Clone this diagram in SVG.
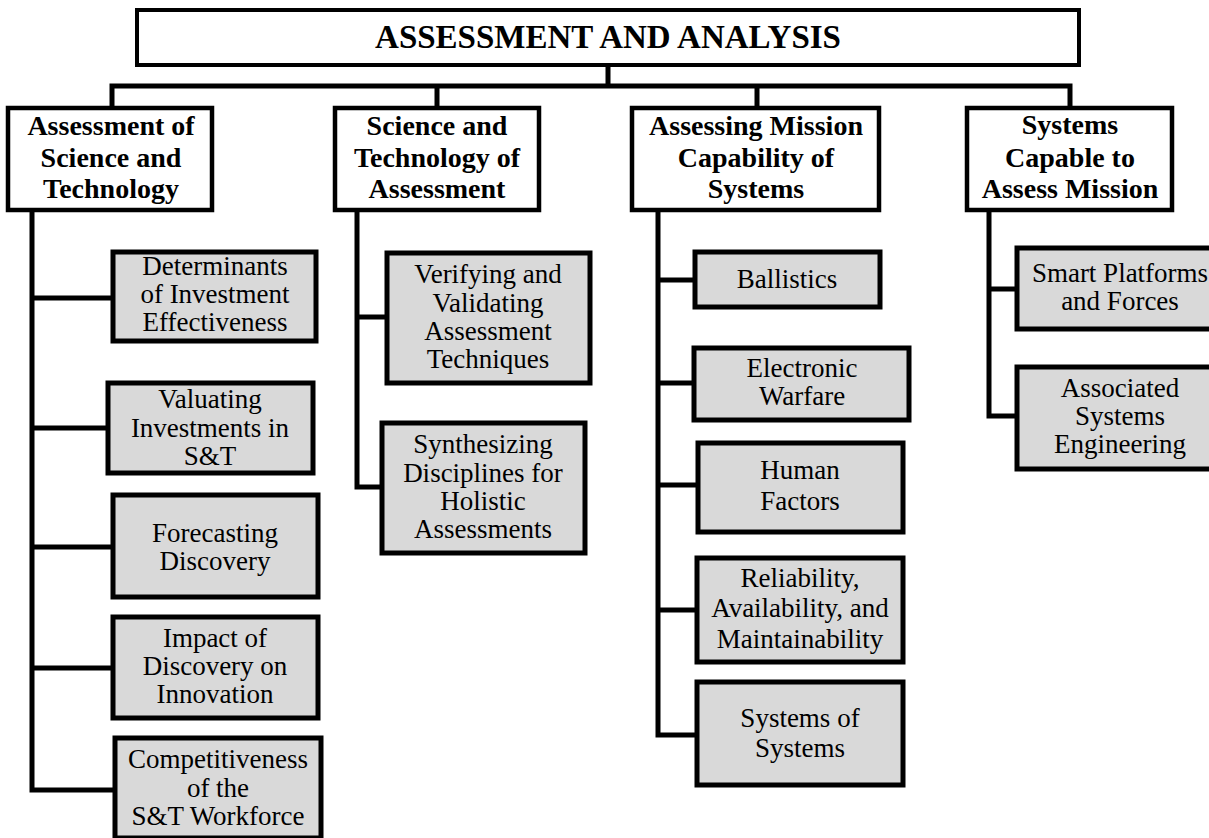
<svg xmlns="http://www.w3.org/2000/svg" width="1209" height="838" viewBox="0 0 1209 838">
<style>
.bg{fill:#ffffff}
.root{fill:#ffffff;stroke:#000;stroke-width:4}
.head{fill:#ffffff;stroke:#000;stroke-width:4.5}
.leaf{fill:#d9d9d9;stroke:#000;stroke-width:5}
.conn{fill:none;stroke:#000;stroke-width:5;stroke-linejoin:miter;stroke-linecap:square}
.t0{font-family:"Liberation Serif","Times New Roman",serif;font-weight:bold;font-size:33px;text-anchor:middle;fill:#000}
.th{font-family:"Liberation Serif","Times New Roman",serif;font-weight:bold;font-size:28px;text-anchor:middle;fill:#000}
.tl{font-family:"Liberation Serif","Times New Roman",serif;font-size:27px;text-anchor:middle;fill:#000}
</style>
<rect class="bg" x="0" y="0" width="1209" height="838"/>
<g id="connectors">
<path class="conn" d="M608,65 V86 M112,86 H1070 M112,86 V108 M437,86 V108 M757,86 V108 M1070,86 V108"/>
<path class="conn" d="M32,210 V790 H115 M32,298 H113 M32,428 H108 M32,547 H113 M32,668 H113"/>
<path class="conn" d="M357,210 V487 H382 M357,317 H387"/>
<path class="conn" d="M658,210 V735 H697 M658,280 H695 M658,383 H694 M658,485 H698 M658,610 H697"/>
<path class="conn" d="M989,210 V416 H1017 M989,289 H1017"/>
</g>
<g id="root">
<rect class="root" x="137" y="10" width="942" height="55"/>
<text class="t0" x="608" y="48">ASSESSMENT AND ANALYSIS</text>
</g>
<g id="h1">
<rect class="head" x="8" y="108" width="204" height="102"/>
<text class="th" x="111" y="135">Assessment of</text>
<text class="th" x="111" y="167">Science and</text>
<text class="th" x="111" y="198">Technology</text>
</g>
<g id="h2">
<rect class="head" x="335" y="108" width="204" height="102"/>
<text class="th" x="437" y="135">Science and</text>
<text class="th" x="437" y="167">Technology of</text>
<text class="th" x="437" y="198">Assessment</text>
</g>
<g id="h3">
<rect class="head" x="632" y="108" width="247" height="102"/>
<text class="th" x="756" y="135">Assessing Mission</text>
<text class="th" x="756" y="167">Capability of</text>
<text class="th" x="756" y="198">Systems</text>
</g>
<g id="h4">
<rect class="head" x="967" y="108" width="205" height="102"/>
<text class="th" x="1070" y="134">Systems</text>
<text class="th" x="1070" y="167">Capable to</text>
<text class="th" x="1070" y="198">Assess Mission</text>
</g>
<g id="c1a">
<rect class="leaf" x="113" y="252" width="203" height="89"/>
<text class="tl" x="215" y="275">Determinants</text>
<text class="tl" x="215" y="303">of Investment</text>
<text class="tl" x="215" y="331">Effectiveness</text>
</g>
<g id="c1b">
<rect class="leaf" x="108" y="383" width="205" height="90"/>
<text class="tl" x="210" y="408">Valuating</text>
<text class="tl" x="210" y="437">Investments  in</text>
<text class="tl" x="210" y="465">S&amp;T</text>
</g>
<g id="c1c">
<rect class="leaf" x="113" y="495" width="205" height="102"/>
<text class="tl" x="215" y="542">Forecasting</text>
<text class="tl" x="215" y="570">Discovery</text>
</g>
<g id="c1d">
<rect class="leaf" x="113" y="617" width="205" height="101"/>
<text class="tl" x="215" y="647">Impact of</text>
<text class="tl" x="215" y="675">Discovery on</text>
<text class="tl" x="215" y="703">Innovation</text>
</g>
<g id="c1e">
<rect class="leaf" x="115" y="738" width="206" height="100"/>
<text class="tl" x="218" y="768">Competitiveness</text>
<text class="tl" x="218" y="797">of the</text>
<text class="tl" x="218" y="825">S&amp;T Workforce</text>
</g>
<g id="c2a">
<rect class="leaf" x="387" y="253" width="203" height="130"/>
<text class="tl" x="488" y="283">Verifying and</text>
<text class="tl" x="488" y="312">Validating</text>
<text class="tl" x="488" y="340">Assessment</text>
<text class="tl" x="488" y="368">Techniques</text>
</g>
<g id="c2b">
<rect class="leaf" x="382" y="423" width="203" height="130"/>
<text class="tl" x="483" y="453">Synthesizing</text>
<text class="tl" x="483" y="482">Disciplines for</text>
<text class="tl" x="483" y="510">Holistic</text>
<text class="tl" x="483" y="538">Assessments</text>
</g>
<g id="c3a">
<rect class="leaf" x="695" y="252" width="185" height="55"/>
<text class="tl" x="787" y="288">Ballistics</text>
</g>
<g id="c3b">
<rect class="leaf" x="694" y="348" width="215" height="72"/>
<text class="tl" x="802" y="377">Electronic</text>
<text class="tl" x="802" y="405">Warfare</text>
</g>
<g id="c3c">
<rect class="leaf" x="698" y="443" width="205" height="89"/>
<text class="tl" x="800" y="479">Human</text>
<text class="tl" x="800" y="510">Factors</text>
</g>
<g id="c3d">
<rect class="leaf" x="697" y="558" width="206" height="104"/>
<text class="tl" x="800" y="587">Reliability,</text>
<text class="tl" x="800" y="617">Availability, and</text>
<text class="tl" x="800" y="648">Maintainability</text>
</g>
<g id="c3e">
<rect class="leaf" x="697" y="682" width="206" height="103"/>
<text class="tl" x="800" y="727">Systems of</text>
<text class="tl" x="800" y="757">Systems</text>
</g>
<g id="c4a">
<rect class="leaf" x="1017" y="248" width="200" height="81"/>
<text class="tl" x="1120" y="282">Smart Platforms</text>
<text class="tl" x="1120" y="310">and Forces</text>
</g>
<g id="c4b">
<rect class="leaf" x="1017" y="367" width="200" height="102"/>
<text class="tl" x="1120" y="397">Associated</text>
<text class="tl" x="1120" y="425">Systems</text>
<text class="tl" x="1120" y="453">Engineering</text>
</g>
</svg>
